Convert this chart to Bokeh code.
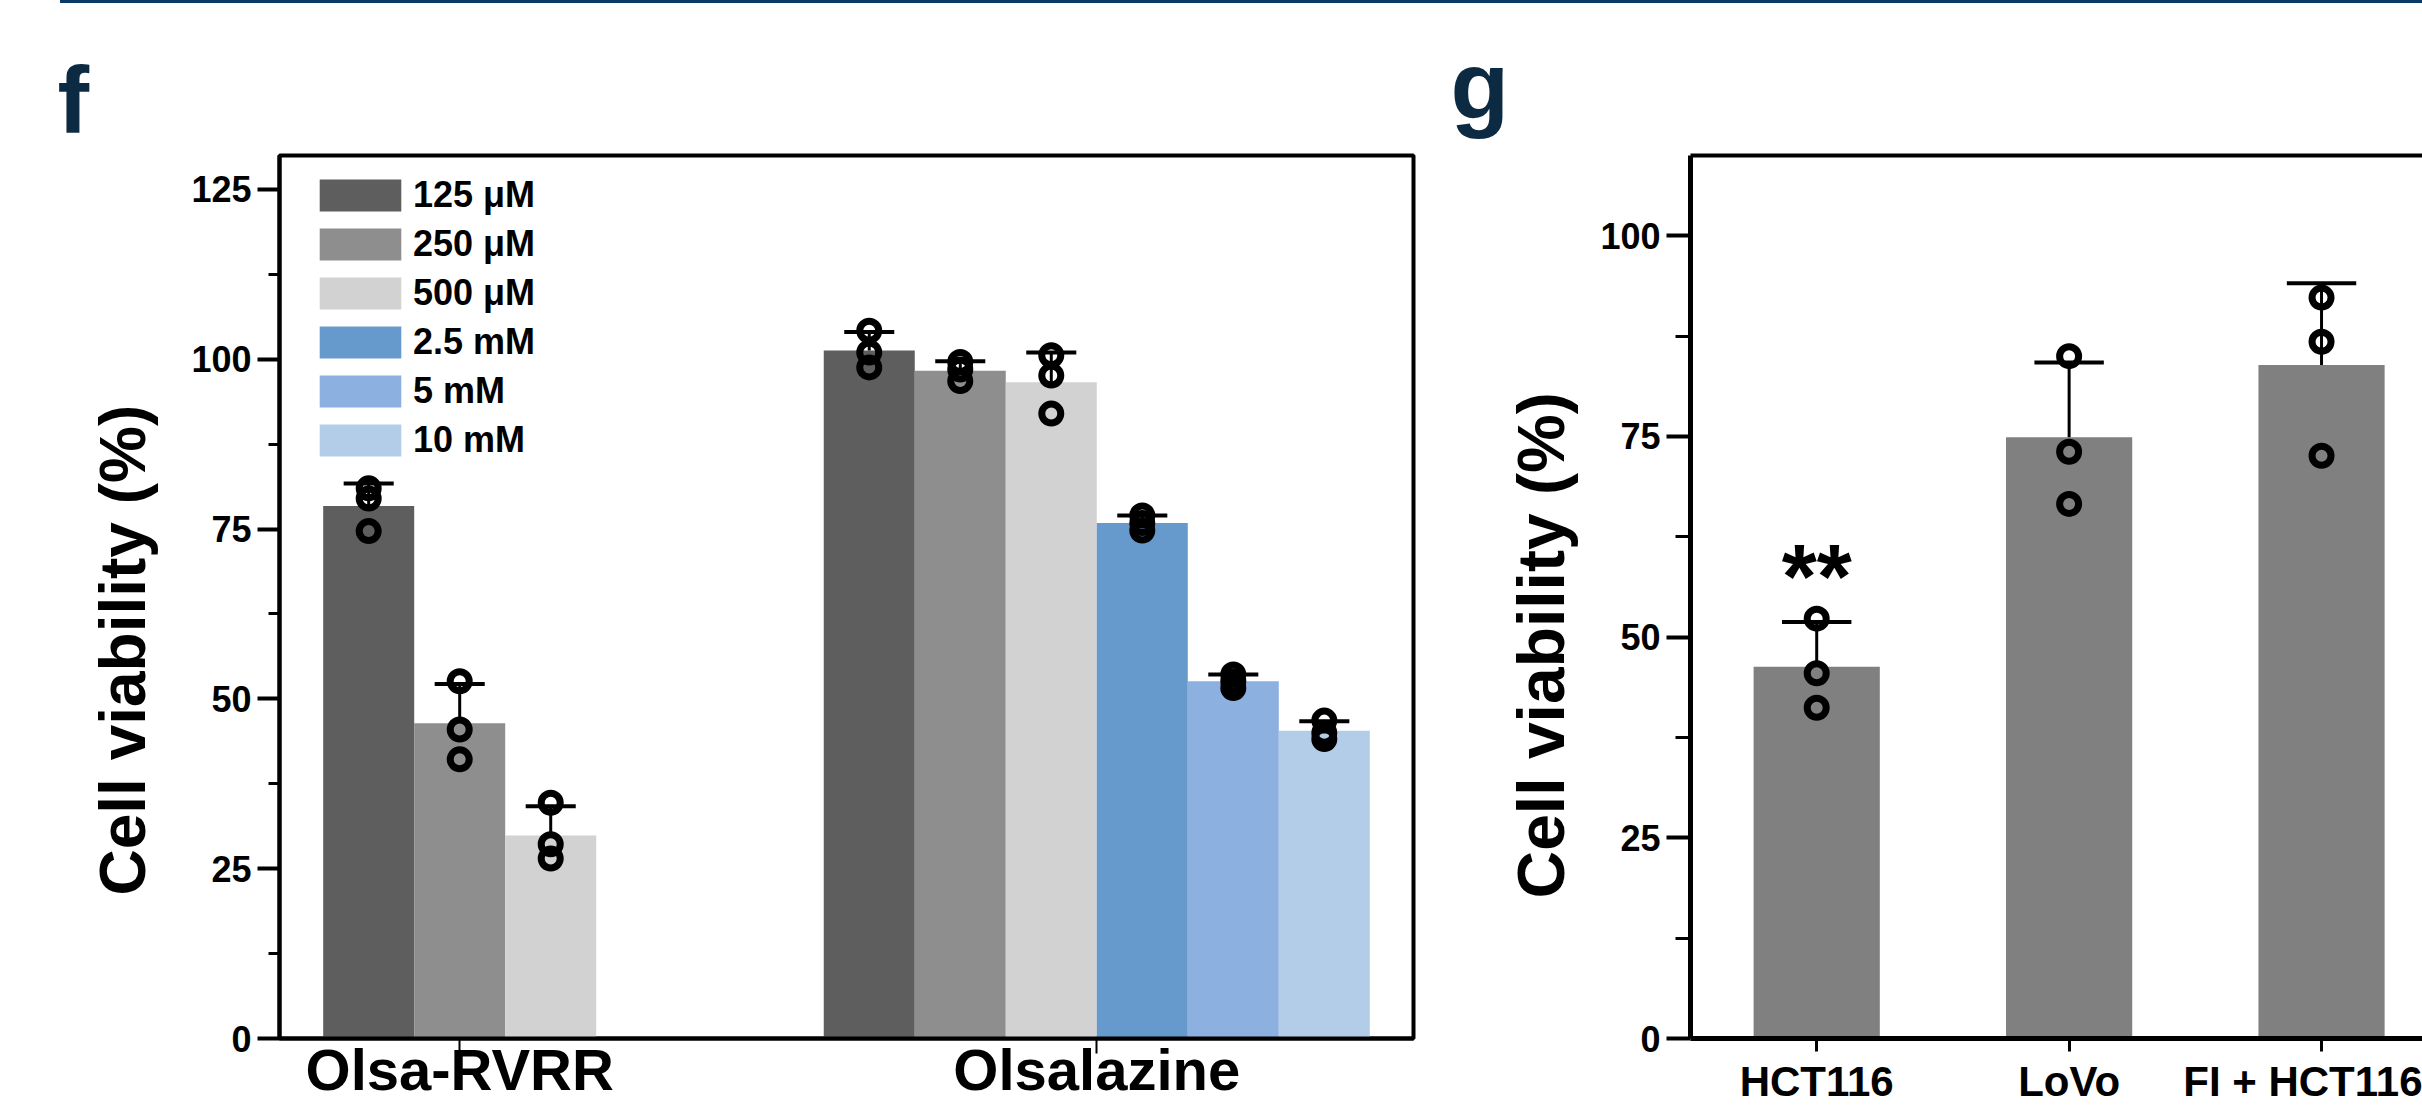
from bokeh.plotting import figure
from bokeh.models import (ColumnDataSource, FixedTicker, Legend, LegendItem,
                          Div, LinearAxis, Range1d, Title)
from bokeh.layouts import row, column
from bokeh.core.properties import value
from bokeh.embed import file_html
from bokeh.resources import INLINE

FONT = "Liberation Sans"
NAVY = "#0c2a42"

# ---------------- panel f data ----------------
f_groups = ["Olsa-RVRR", "Olsalazine"]
f_series = ["125 μM", "250 μM", "500 μM", "2.5 mM", "5 mM", "10 mM"]
f_colors = ["#5e5e5e", "#8e8e8e", "#d2d2d2", "#6699cc", "#8cb0df", "#b3cde8"]

olsa_rvrr_mean = [78.4, 46.4, 29.9]
olsa_rvrr_sd = [3.3, 5.8, 4.3]
olsa_rvrr_pts = [[81.0, 79.5, 74.7], [52.6, 45.5, 41.1], [34.7, 28.6, 26.5]]

olsalazine_mean = [101.3, 98.3, 96.6, 75.9, 52.6, 45.3]
olsalazine_sd = [2.7, 1.4, 4.4, 1.1, 1.0, 1.4]
olsalazine_pts = [[104.2, 101.0, 98.8], [99.6, 98.5, 96.8], [100.6, 97.6, 92.0],
                  [77.0, 75.9, 74.8], [53.6, 52.6, 51.6], [46.8, 45.0, 44.1]]

f_yticks = [0, 25, 50, 75, 100, 125]
f_ylabel = "Cell viability (%)"

# ---------------- panel g data ----------------
g_cells = ["HCT116", "LoVo", "FI + HCT116"]
g_mean = [46.3, 74.9, 83.9]
g_sd = [5.6, 9.3, 10.2]
g_pts = [[52.3, 45.5, 41.2], [85.0, 73.1, 66.6], [92.3, 86.8, 72.6]]
g_signif = ["**", "", ""]
g_yticks = [0, 25, 50, 75, 100]
g_ylabel = "Cell viability (%)"

# ---------------- layout constants ----------------
F_GROUP_POS = [0, 7]
F_BAR_W = 1.0
G_BAR_W = 0.5
CAP_FRAC = 0.55


def minor_between(ticks):
    return [(a + b) / 2 for a, b in zip(ticks[:-1], ticks[1:])] + [ticks[-1] + (ticks[1] - ticks[0]) / 2]


def style_axis(ax):
    ax.axis_line_color = "black"
    ax.major_tick_line_color = "black"
    ax.minor_tick_line_color = "black"
    ax.major_label_text_font = FONT
    ax.major_label_text_font_style = "bold"
    ax.major_label_text_color = "black"
    ax.major_tick_in = 0
    ax.minor_tick_in = 0


def style_fig(p):
    p.xgrid.visible = False
    p.ygrid.visible = False
    p.background_fill_color = "white"
    p.border_fill_color = "white"


def side_title(text, size, offset, standoff):
    return Title(text=text, align="left", offset=offset, standoff=standoff,
                 text_font=FONT, text_font_style="bold", text_font_size=size,
                 text_color="black")


# ================= panel f =================
pf = figure(width=1440, height=1107, output_backend="svg", toolbar_location=None, tools="",
            x_range=Range1d(-1.98, 10.48), y_range=Range1d(0, 130),
            min_border_left=279, min_border_right=27, min_border_top=152, min_border_bottom=72)
pf.outline_line_color = "black"
pf.outline_line_width = 4
style_fig(pf)

f_means = [olsa_rvrr_mean, olsalazine_mean]
f_sds = [olsa_rvrr_sd, olsalazine_sd]
f_ptss = [olsa_rvrr_pts, olsalazine_pts]

series_src = {i: dict(x=[], top=[]) for i in range(len(f_series))}
err = dict(x=[], base=[], top=[], l=[], r=[])
pts = dict(x=[], y=[])
for center, means, sds, ptss in zip(F_GROUP_POS, f_means, f_sds, f_ptss):
    n = len(means)
    for i in range(n):
        x = center + (i - (n - 1) / 2) * F_BAR_W
        series_src[i]["x"].append(x)
        series_src[i]["top"].append(means[i])
        err["x"].append(x)
        err["base"].append(means[i])
        err["top"].append(means[i] + sds[i])
        err["l"].append(x - CAP_FRAC * F_BAR_W / 2)
        err["r"].append(x + CAP_FRAC * F_BAR_W / 2)
        for v in ptss[i]:
            pts["x"].append(x)
            pts["y"].append(v)

bar_renderers = []
for i, name in enumerate(f_series):
    r = pf.vbar(x="x", top="top", width=F_BAR_W, source=ColumnDataSource(series_src[i]),
                fill_color=f_colors[i], line_color=None)
    bar_renderers.append(r)

esrc = ColumnDataSource(err)
pf.segment(x0="x", y0="base", x1="x", y1="top", source=esrc, line_color="black", line_width=3)
pf.segment(x0="l", y0="top", x1="r", y1="top", source=esrc, line_color="black", line_width=4)
pf.scatter(x="x", y="y", source=ColumnDataSource(pts), marker="circle", size=19,
           fill_color=None, line_color="black", line_width=7)

legend = Legend(items=[LegendItem(label=n, renderers=[r]) for n, r in zip(f_series, bar_renderers)],
                location=(30, 577), margin=0, padding=0, spacing=7,
                glyph_width=102, glyph_height=40, label_height=40, label_standoff=2,
                label_text_font=FONT, label_text_font_style="bold", label_text_font_size="36px",
                label_text_color="black",
                border_line_color=None, background_fill_alpha=0)
pf.add_layout(legend)

fy = pf.left[0]
fx = pf.below[0]
style_axis(fy)
style_axis(fx)
fy.ticker = FixedTicker(ticks=f_yticks, minor_ticks=minor_between(f_yticks))
fy.major_label_text_font_size = "36px"
fy.major_tick_out = 22
fy.minor_tick_out = 11
fy.major_tick_line_width = 4
fy.minor_tick_line_width = 3
fy.major_label_standoff = 6
fy.axis_line_width = 4
pf.add_layout(side_title(f_ylabel, "64px", 143, 60), "left")

fx.ticker = FixedTicker(ticks=F_GROUP_POS, minor_ticks=[])
fx.major_label_overrides = {pos: name for pos, name in zip(F_GROUP_POS, f_groups)}
fx.major_label_text_font_size = "58px"
fx.major_tick_out = 15
fx.major_tick_line_width = 2
fx.major_label_standoff = -17
fx.axis_line_width = 4

pf.title.text = "f"
pf.title.align = "left"
pf.title.offset = -222
pf.title.standoff = 6
pf.title.text_font = FONT
pf.title.text_font_style = "bold"
pf.title.text_font_size = "95px"
pf.title.text_color = NAVY

# ================= panel g =================
pg = figure(width=982, height=1107, output_backend="svg", toolbar_location=None, tools="",
            x_range=Range1d(-0.5, 2.4), y_range=Range1d(0, 110),
            min_border_left=250, min_border_right=0, min_border_top=152, min_border_bottom=72)
pg.outline_line_color = None
style_fig(pg)

g_x = list(range(len(g_cells)))
g_src = ColumnDataSource(dict(x=g_x, top=g_mean,
                              err=[m + s for m, s in zip(g_mean, g_sd)],
                              l=[x - CAP_FRAC * G_BAR_W / 2 for x in g_x],
                              r=[x + CAP_FRAC * G_BAR_W / 2 for x in g_x],
                              sig=g_signif))
pg.vbar(x="x", top="top", width=G_BAR_W, source=g_src, fill_color="#808080", line_color=None)
pg.segment(x0="x", y0="top", x1="x", y1="err", source=g_src, line_color="black", line_width=3)
pg.segment(x0="l", y0="err", x1="r", y1="err", source=g_src, line_color="black", line_width=4)
gp = dict(x=[], y=[])
for x, vals in zip(g_x, g_pts):
    for v in vals:
        gp["x"].append(x)
        gp["y"].append(v)
pg.scatter(x="x", y="y", source=ColumnDataSource(gp), marker="circle", size=19,
           fill_color=None, line_color="black", line_width=7)
pg.text(x="x", y="err", text="sig", source=g_src, text_align="center", text_baseline="alphabetic",
        y_offset=-45, text_font=value(FONT), text_font_style="bold", text_font_size="90px",
        text_color="black")

top_axis = LinearAxis(ticker=FixedTicker(ticks=[], minor_ticks=[]),
                      major_tick_line_color=None, minor_tick_line_color=None,
                      major_tick_out=0, minor_tick_out=0, major_label_standoff=0,
                      axis_line_width=4, axis_line_color="black")
pg.add_layout(top_axis, "above")

gy = pg.left[0]
gx = pg.below[0]
style_axis(gy)
style_axis(gx)
gy.ticker = FixedTicker(ticks=g_yticks, minor_ticks=minor_between(g_yticks))
gy.major_label_text_font_size = "36px"
gy.major_tick_out = 24
gy.minor_tick_out = 15
gy.major_tick_line_width = 4
gy.minor_tick_line_width = 3
gy.major_label_standoff = 6
gy.axis_line_width = 5
pg.add_layout(side_title(g_ylabel, "66px", 140, 40), "left")

gx.ticker = FixedTicker(ticks=g_x, minor_ticks=[])
gx.major_label_overrides = {x: n for x, n in zip(g_x, g_cells)}
gx.major_label_text_font_size = "42px"
gx.major_tick_out = 13
gx.major_tick_line_width = 3
gx.major_label_standoff = 6
gx.axis_line_width = 5

pg.title.text = "g"
pg.title.align = "left"
pg.title.offset = -240
pg.title.standoff = 34
pg.title.text_font = FONT
pg.title.text_font_style = "bold"
pg.title.text_font_size = "96px"
pg.title.text_color = NAVY

topline = Div(text="", width=2362, height=3, margin=(0, 0, 0, 60),
              styles={"background-color": "#0b3a66"})

layout = column(topline, row(pf, pg, spacing=0), spacing=0)
open("out.html", "w").write(file_html(layout, INLINE))
